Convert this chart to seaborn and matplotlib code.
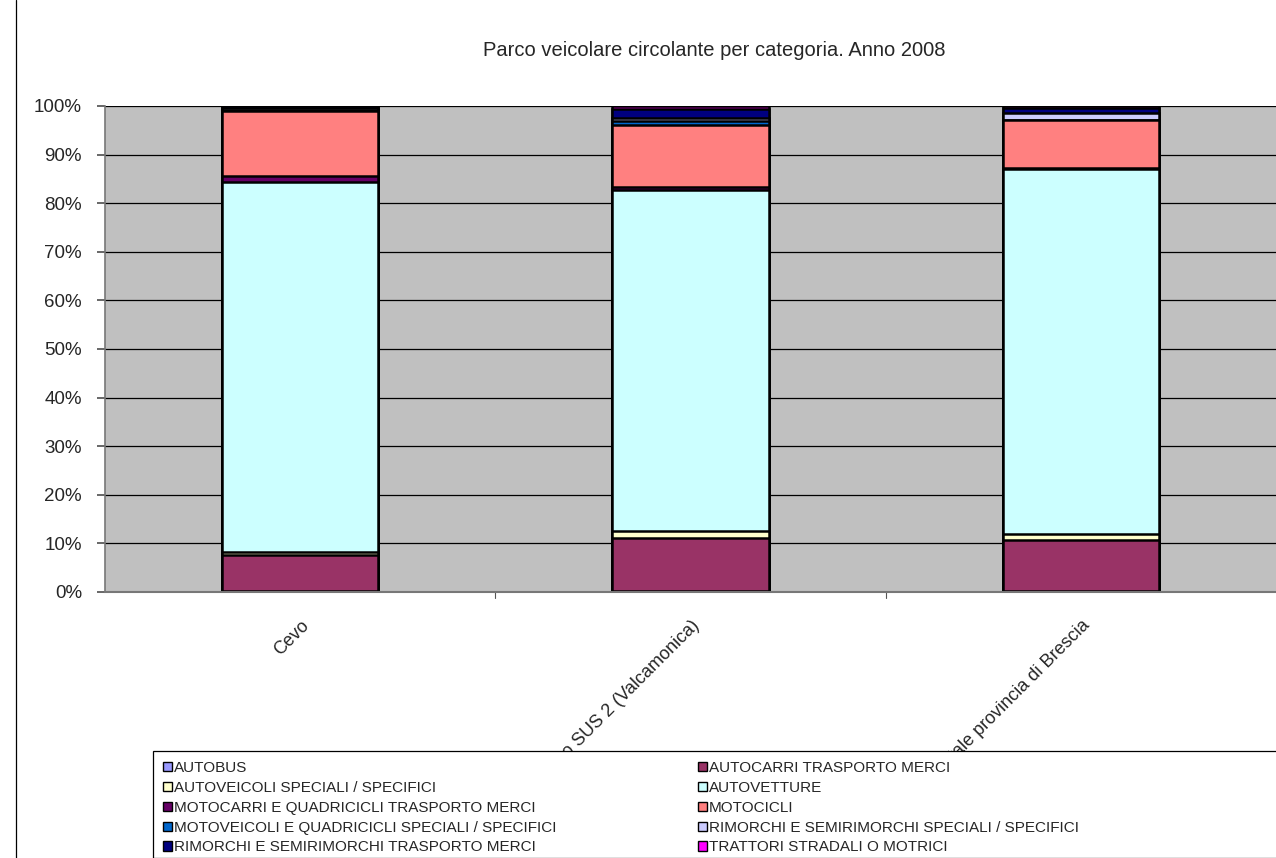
import pandas as pd
import numpy as np
import matplotlib
matplotlib.use("Agg")
import matplotlib.pyplot as plt
from matplotlib.patches import Patch, Rectangle
from matplotlib.lines import Line2D
import seaborn as sns

sns.set_theme(style="white")
plt.rcParams['font.family'] = ['Liberation Sans', 'DejaVu Sans']

areas = ['Cevo', 'Distretto SUS 2 (Valcamonica)', 'Totale provincia di Brescia']
categories = ['AUTOBUS', 'AUTOCARRI TRASPORTO MERCI', 'AUTOVEICOLI SPECIALI / SPECIFICI',
              'AUTOVETTURE', 'MOTOCARRI E QUADRICICLI TRASPORTO MERCI', 'MOTOCICLI',
              'MOTOVEICOLI E QUADRICICLI SPECIALI / SPECIFICI',
              'RIMORCHI E SEMIRIMORCHI SPECIALI / SPECIFICI',
              'RIMORCHI E SEMIRIMORCHI TRASPORTO MERCI', 'TRATTORI STRADALI O MOTRICI']
# percentuali per area, stesso ordine di categories
cevo = [0.3, 7.3, 0.7, 76.0, 1.2, 13.4, 0.2, 0.5, 0.4, 0.0]
sus2 = [0.2, 10.9, 1.4, 70.2, 0.6, 12.8, 0.8, 0.6, 1.8, 0.7]
brescia = [0.2, 10.5, 1.2, 75.1, 0.3, 9.8, 0.1, 1.4, 1.0, 0.4]
colors = ['#9999FF', '#993366', '#FFFFCC', '#CCFFFF', '#660066', '#FF8080',
          '#0066CC', '#CCCCFF', '#000080', '#FF00FF']

df = pd.DataFrame({'Cevo': cevo, areas[1]: sus2, areas[2]: brescia}, index=categories)
cum = df.cumsum()

fig = plt.figure(figsize=(12.76, 8.58), dpi=100)
ax = fig.add_axes([105 / 1276, (858 - 592) / 858, (1276 - 105) / 1276, (592 - 106) / 858])
ax.set_facecolor('#C0C0C0')

# stacked bars: draw cumulative totals from top category down
for i in range(len(categories) - 1, -1, -1):
    sns.barplot(x=areas, y=cum.iloc[i].values, color=colors[i], saturation=1, width=0.4,
                edgecolor='black', linewidth=1.8, ax=ax, zorder=2)

ax.set_ylim(0, 100)
ax.set_xlim(-0.5, 2.5)
ax.set_yticks(np.arange(0, 101, 10))
ax.set_yticklabels([f'{v}%' for v in range(0, 101, 10)], fontsize=13.5)
ax.yaxis.grid(True, color='black', linewidth=0.9, zorder=0)
ax.set_axisbelow(True)
ax.tick_params(axis='y', left=True, length=6, color='#555555', pad=10.5)
ax.set_xticks([0, 1, 2])
ax.set_xticklabels(areas, rotation=45, ha='right', rotation_mode='anchor', fontsize=13)
ax.tick_params(axis='x', bottom=False, pad=12)
for xb in [0.5, 1.5]:
    ax.plot([xb, xb], [0, -1.3], color='#555555', linewidth=0.8, clip_on=False)
ax.set_xlabel('')
ax.set_ylabel('')
for s in ['top', 'right']:
    ax.spines[s].set_visible(False)
ax.spines['left'].set_color('#777777')
ax.spines['bottom'].set_color('#777777')
ax.spines['left'].set_linewidth(1.2)
ax.spines['bottom'].set_linewidth(1.5)

fig.text(714 / 1276, 1 - 51 / 858, 'Parco veicolare circolante per categoria. Anno 2008',
         ha='center', va='center', fontsize=14.5)

# chart area border on the left
fig.add_artist(Line2D([16 / 1276, 16 / 1276], [0, 1], color='black', linewidth=0.9))

# legend box
fig.add_artist(Rectangle((153 / 1276, 0), 1.0, 107 / 858, facecolor='white',
                         edgecolor='black', linewidth=0.9, zorder=5))
handles = [Patch(facecolor=c, edgecolor='black', linewidth=1.0) for c in colors]
# two columns, row-wise order as in the reference
order = [0, 2, 4, 6, 8, 1, 3, 5, 7, 9]
leg = fig.legend([handles[i] for i in order], [categories[i] for i in order],
                 loc='upper left', bbox_to_anchor=(154 / 1276, 1 - 752 / 858), ncol=2,
                 frameon=False, fontsize=11, handlelength=0.55, handleheight=0.55,
                 handletextpad=0.15, labelspacing=0.38, columnspacing=9.3, borderpad=0.1)
leg.set_zorder(6)

fig.savefig('out.png', dpi=100)
